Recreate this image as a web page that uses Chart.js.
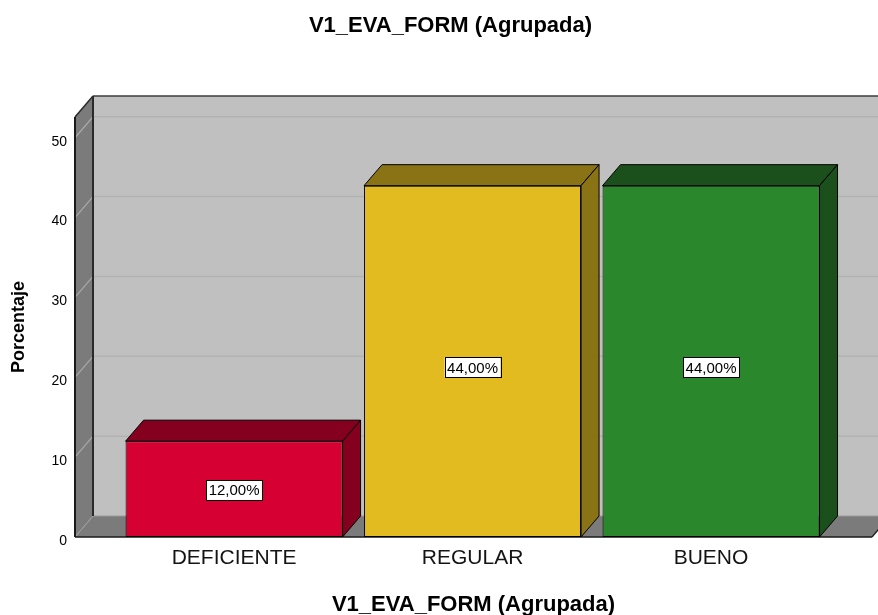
<!DOCTYPE html>
<html>
<head>
<meta charset="utf-8">
<script src="https://cdn.jsdelivr.net/npm/chart.js@4/dist/chart.umd.min.js"></script>
<style>
html,body{margin:0;padding:0;background:#ffffff;}
canvas{display:block;}
</style>
</head>
<body>
<canvas id="c" width="878" height="615"></canvas>
<script>
// ---- data ----
const categories = ['DEFICIENTE', 'REGULAR', 'BUENO'];
const percentages = [12, 44, 44];
const yTickValues = [0, 10, 20, 30, 40, 50];
const chartTitle = 'V1_EVA_FORM (Agrupada)';
const xAxisTitle = 'V1_EVA_FORM (Agrupada)';
const yAxisTitle = 'Porcentaje';

// ---- styles ----
const frontColors = ['#d60032', '#e1bb1f', '#2a872b'];
const shadeColors = ['#85001f', '#8a7314', '#1b4f1b'];
const FONT = '"Liberation Sans", Arial, sans-serif';
const DX = 18, DY = -21; // 3D depth offset

function poly(ctx, pts, fill, stroke, lw) {
  ctx.beginPath();
  ctx.moveTo(pts[0][0], pts[0][1]);
  for (let i = 1; i < pts.length; i++) ctx.lineTo(pts[i][0], pts[i][1]);
  ctx.closePath();
  if (fill) { ctx.fillStyle = fill; ctx.fill(); }
  if (stroke) { ctx.strokeStyle = stroke; ctx.lineWidth = lw || 1; ctx.stroke(); }
}
function seg(ctx, x1, y1, x2, y2, color, lw) {
  ctx.beginPath();
  ctx.moveTo(x1, y1); ctx.lineTo(x2, y2);
  ctx.strokeStyle = color; ctx.lineWidth = lw; ctx.stroke();
}

const box3d = {
  id: 'box3d',
  beforeDatasetsDraw(chart) {
    const {ctx, chartArea: a, scales} = chart;
    const y = scales.y;
    const W = chart.width + 40;
    ctx.save();
    // back wall
    ctx.fillStyle = '#c0c0c0';
    ctx.fillRect(a.left + DX, a.top + DY, W, a.bottom - a.top);
    // side wall
    poly(ctx, [[a.left, a.top], [a.left + DX, a.top + DY], [a.left + DX, a.bottom + DY], [a.left, a.bottom]], '#7b7b7b');
    // floor
    poly(ctx, [[a.left, a.bottom], [a.left + DX, a.bottom + DY], [W, a.bottom + DY], [a.right + DX, a.bottom + DY], [a.right, a.bottom]], '#7b7b7b');
    // grid lines
    yTickValues.forEach(v => {
      if (v === 0) return;
      const py = y.getPixelForValue(v);
      seg(ctx, a.left + DX, py + DY, W, py + DY, '#b2b2b2', 1.5);
      seg(ctx, a.left, py, a.left + DX, py + DY, '#a9a9a9', 1.2);
    });
    // floor/back wall edge and corner
    seg(ctx, a.left + DX, a.bottom + DY, W, a.bottom + DY, '#9a9a9a', 1);
    seg(ctx, a.left, a.bottom, a.left + DX, a.bottom + DY, '#a0a0a0', 1);
    // dark edges
    seg(ctx, a.left + DX, a.top + DY, W, a.top + DY, '#3c3c3c', 1.5);
    seg(ctx, a.left, a.top, a.left + DX, a.top + DY, '#2a2a2a', 1.5);
    seg(ctx, a.left + DX, a.top + DY, a.left + DX, a.bottom + DY, '#2a2a2a', 2);
    seg(ctx, a.left, a.top, a.left, a.bottom, '#1a1a1a', 2);
    seg(ctx, a.left, a.bottom, a.right, a.bottom, '#1a1a1a', 1.5);
    seg(ctx, a.right, a.bottom, a.right + DX, a.bottom + DY, '#1a1a1a', 1.2);
    ctx.restore();
  },
  afterDatasetsDraw(chart) {
    const {ctx} = chart;
    const meta = chart.getDatasetMeta(0);
    ctx.save();
    ctx.lineJoin = 'miter';
    meta.data.forEach((bar, i) => {
      const p = bar.getProps(['x', 'y', 'base', 'width'], true);
      const l = p.x - p.width / 2, r = p.x + p.width / 2;
      const top = p.y, base = p.base;
      poly(ctx, [[l, top], [l + DX, top + DY], [r + DX, top + DY], [r, top]], shadeColors[i], '#000', 1);
      poly(ctx, [[r, top], [r + DX, top + DY], [r + DX, base + DY], [r, base]], shadeColors[i], '#000', 1);
      // value label
      const txt = percentages[i].toFixed(2).replace('.', ',') + '%';
      ctx.font = '15px ' + FONT;
      const tw = ctx.measureText(txt).width;
      const h = base - top;
      const cy = base - 0.48 * h - 1;
      const bw = tw + 5, bh = 20;
      ctx.fillStyle = '#ffffff';
      ctx.fillRect(p.x - bw / 2, cy - bh / 2, bw, bh);
      ctx.strokeStyle = '#000';
      ctx.lineWidth = 1;
      ctx.strokeRect(Math.round(p.x - bw / 2) + 0.5, Math.round(cy - bh / 2) + 0.5, Math.round(bw), bh);
      ctx.fillStyle = '#000';
      ctx.textAlign = 'center';
      ctx.textBaseline = 'middle';
      ctx.fillText(txt, p.x, cy + 1);
    });
    ctx.restore();
  }
};

new Chart(document.getElementById('c'), {
  type: 'bar',
  data: {
    datasets: [{
      data: categories.map((c, i) => ({x: i, y: percentages[i]})),
      backgroundColor: frontColors,
      borderColor: '#000',
      borderWidth: 1,
      borderSkipped: false,
      barPercentage: 0.91,
      categoryPercentage: 1
    }]
  },
  options: {
    responsive: false,
    animation: false,
    layout: {padding: {left: 29, right: 6, top: 0, bottom: 0}},
    plugins: {
      legend: {display: false},
      tooltip: {enabled: false},
      title: {
        display: true, text: chartTitle, color: '#000',
        font: {family: FONT, size: 22, weight: 'bold', lineHeight: 1.2},
        padding: {top: 12.5, bottom: 78.1}
      }
    },
    scales: {
      x: {
        type: 'linear', min: -0.667, max: 2.675, offset: false,
        grid: {display: false, drawTicks: false}, border: {display: false},
        afterBuildTicks: s => { s.ticks = categories.map((c, i) => ({value: i})); },
        afterFit: s => { s.height = 78; },
        ticks: {
          autoSkip: false, maxRotation: 0, minRotation: 0, padding: 9, color: '#141414',
          font: {family: FONT, size: 21},
          callback: v => categories[v] !== undefined ? categories[v] : ''
        },
        title: {
          display: true, text: xAxisTitle, color: '#000',
          font: {family: FONT, size: 22, weight: 'bold', lineHeight: 1},
          padding: {top: 0, bottom: -1}
        }
      },
      y: {
        min: 0, max: 52.6,
        grid: {display: false, drawTicks: false}, border: {display: false},
        afterBuildTicks: s => { s.ticks = yTickValues.map(v => ({value: v})); },
        afterFit: s => { s.width = 46; },
        ticks: {padding: 8, labelOffset: 4, color: '#000', font: {family: FONT, size: 14}},
        title: {
          display: true, text: yAxisTitle, color: '#000',
          font: {family: FONT, size: 18, weight: 'bold', lineHeight: 1.2},
          padding: {top: -21, bottom: 0}
        }
      }
    }
  },
  plugins: [box3d]
});
</script>
</body>
</html>
